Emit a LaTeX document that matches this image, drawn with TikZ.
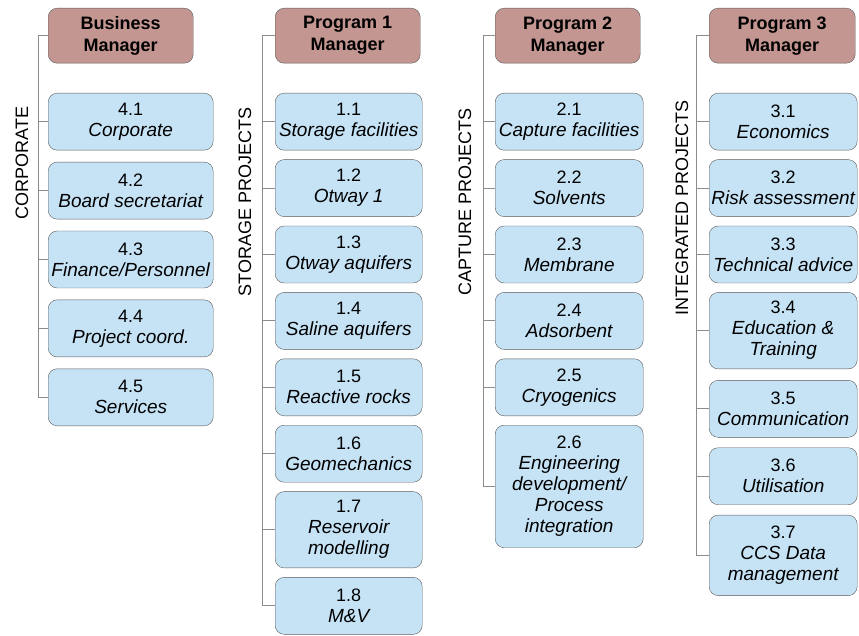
\documentclass[tikz,border=0pt]{standalone}
\usepackage{fontspec}
\setmainfont{Liberation Sans}
\usepackage{tikz}
\usetikzlibrary{positioning}
\definecolor{mgrclr}{RGB}{196,150,146}
\definecolor{taskclr}{RGB}{198,227,246}
\definecolor{boxline}{RGB}{90,90,90}
\definecolor{linkclr}{RGB}{140,140,140}
\newcommand{\tn}{\fontsize{19}{21}\selectfont\itshape}
\tikzset{
  mgr/.style={rectangle,draw=boxline,fill=mgrclr,rounded corners=9pt,
              minimum width=145pt,minimum height=55pt,inner sep=2pt,
              align=center,font=\fontsize{18}{22}\selectfont\bfseries},
  task/.style={rectangle,draw=boxline,fill=taskclr,rounded corners=9pt,
               minimum width=147pt,minimum height=57pt,inner xsep=1pt,
               inner ysep=9pt,align=center},
  widetask/.style={task,minimum width=165pt},
  grp/.style={rotate=90},
  link/.style={draw=linkclr,line width=1pt},
}

\begin{document}
\begin{tikzpicture}[x=1pt,y=-1pt,node distance=9pt,
                    font=\fontsize{18}{21}\selectfont]
\useasboundingbox (0,0) rectangle (859,636);

% managers
\node[mgr, anchor=north west] (bm) at (48,8)  {Business\\Manager};
\node[mgr, anchor=north west] (pm1) at (275,8) {Program 1\\Manager};
\node[mgr, anchor=north west] (pm2) at (495,8) {Program 2\\Manager};
\node[mgr, anchor=north west, minimum width=146pt] (pm3) at (709,8) {Program 3\\Manager};

% corporate
\node[widetask, anchor=north west] (c41) at (48,93) {4.1\\\tn Corporate};
\node[widetask, below=11.5pt of c41] (c42) {4.2\\\tn Board secretariat};
\node[widetask, below=11.5pt of c42] (c43) {4.3\\\tn Finance/Personnel};
\node[widetask, below=11.5pt of c43] (c44) {4.4\\\tn Project coord.};
\node[widetask, below=11.5pt of c44] (c45) {4.5\\\tn Services};

% storage
\node[task, anchor=north west] (s11) at (275,93) {1.1\\\tn Storage facilities};
\node[task, below=of s11] (s12) {1.2\\\tn Otway 1};
\node[task, below=of s12] (s13) {1.3\\\tn Otway aquifers};
\node[task, below=of s13] (s14) {1.4\\\tn Saline aquifers};
\node[task, below=of s14] (s15) {1.5\\\tn Reactive rocks};
\node[task, below=of s15] (s16) {1.6\\\tn Geomechanics};
\node[task, below=of s16] (s17) {1.7\\\tn Reservoir\\\tn modelling};
\node[task, below=of s17] (s18) {1.8\\\tn M\&V};

% capture
\node[task, anchor=north west, minimum width=148pt] (p21) at (495,93) {2.1\\\tn Capture facilities};
\node[task, minimum width=148pt, below=of p21] (p22) {2.2\\\tn Solvents};
\node[task, minimum width=148pt, below=of p22] (p23) {2.3\\\tn Membrane};
\node[task, minimum width=148pt, below=of p23] (p24) {2.4\\\tn Adsorbent};
\node[task, minimum width=148pt, below=of p24] (p25) {2.5\\\tn Cryogenics};
\node[task, minimum width=148pt, inner ysep=11pt, below=of p25] (p26)
      {2.6\\\tn Engineering\\\tn development/\\\tn Process\\\tn integration};

% integrated
\node[task, anchor=north west, minimum width=148pt] (i31) at (709,93) {3.1\\\tn Economics};
\node[task, minimum width=148pt, below=of i31] (i32) {3.2\\\tn Risk assessment};
\node[task, minimum width=148pt, below=of i32] (i33) {3.3\\\tn Technical advice};
\node[task, minimum width=148pt, below=of i33] (i34) {3.4\\\tn Education \&\\\tn Training};
\node[task, minimum width=148pt, below=11pt of i34] (i35) {3.5\\\tn Communication};
\node[task, minimum width=148pt, below=10pt of i35] (i36) {3.6\\\tn Utilisation};
\node[task, minimum width=148pt, inner ysep=11pt, below=10pt of i36] (i37) {3.7\\\tn CCS Data\\\tn management};

% group labels
\node[grp] (lc) at (22,163) {CORPORATE};
\node[grp] (ls) at (245,202) {STORAGE PROJECTS};
\node[grp] (lp) at (465,202) {CAPTURE PROJECTS};
\node[grp] (li) at (682,208) {INTEGRATED PROJECTS};

% trunks
\coordinate (t4) at (38,0);
\coordinate (t1) at (262,0);
\coordinate (t2) at (483,0);
\coordinate (t3) at (696,0);
\draw[link] (bm.west) -- (t4 |- bm.west) -- (t4 |- c45.west) -- (c45.west);
\draw[link] (pm1.west) -- (t1 |- pm1.west) -- (t1 |- s18.west) -- (s18.west);
\draw[link] (pm2.west) -- (t2 |- pm2.west) -- (t2 |- p26.west) -- (p26.west);
\draw[link] (pm3.west) -- (t3 |- pm3.west) -- (t3 |- i37.west) -- (i37.west);
\foreach \n in {c41,c42,c43,c44} \draw[link] (\n.west) -- (t4 |- \n.west);
\foreach \n in {s11,s12,s13,s14,s15,s16,s17} \draw[link] (\n.west) -- (t1 |- \n.west);
\foreach \n in {p21,p22,p23,p24,p25} \draw[link] (\n.west) -- (t2 |- \n.west);
\foreach \n in {i31,i32,i33,i34,i35,i36} \draw[link] (\n.west) -- (t3 |- \n.west);
\end{tikzpicture}
\end{document}
